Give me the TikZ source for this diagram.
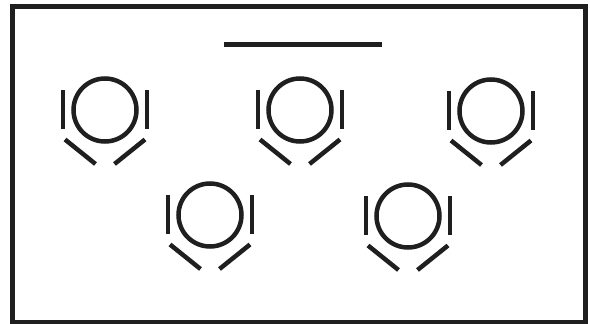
\documentclass[tikz,border=0pt]{standalone}
\begin{document}
\begin{tikzpicture}[x=1pt,y=-1pt,
  stroke/.style={line width=4.5pt,color=black!88},
  ring/.pic={
    \draw[stroke] (0,0) circle[radius=31.5];
    \draw[stroke] (-42,-20) -- (-42,19);
    \draw[stroke] (42,-20) -- (42,19);
    \draw[stroke] (-40,29.5) -- (-9.5,54);
    \draw[stroke] (40,29.5) -- (9.5,54);
  }]
\useasboundingbox (0,0) rectangle (590,324);
\draw[line width=5pt,color=black!88] (12.5,6.5) rectangle (585.5,322);
\draw[line width=5pt,color=black!88] (224,44.5) -- (382,44.5);
\pic at (105,110) {ring};
\pic at (300,110) {ring};
\pic at (491,111) {ring};
\pic at (210,215) {ring};
\pic at (408,216) {ring};
\end{tikzpicture}
\end{document}
